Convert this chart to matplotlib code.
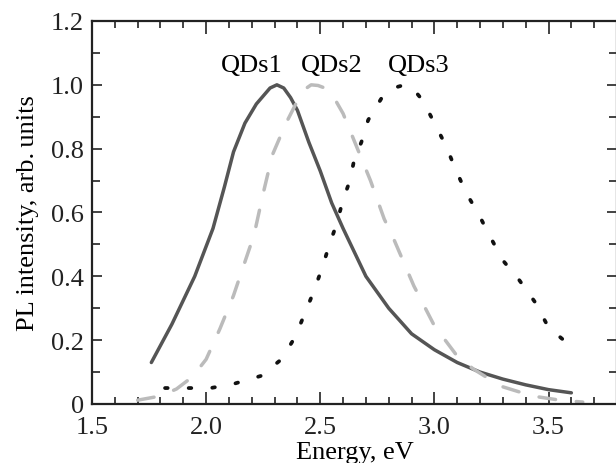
import matplotlib.pyplot as plt
from matplotlib.ticker import MultipleLocator, FuncFormatter

plt.rcParams["font.family"] = ["Liberation Serif", "DejaVu Serif"]

# QDs1 (solid)
qd1_e = [1.76, 1.85, 1.95, 2.03, 2.08, 2.12, 2.17, 2.22, 2.25, 2.28, 2.31, 2.34,
         2.37, 2.40, 2.45, 2.50, 2.55, 2.60, 2.70, 2.80, 2.90, 3.00, 3.10, 3.20,
         3.30, 3.40, 3.50, 3.60]
qd1_i = [0.13, 0.25, 0.40, 0.55, 0.68, 0.79, 0.88, 0.94, 0.965, 0.99, 1.00, 0.99,
         0.96, 0.92, 0.82, 0.73, 0.63, 0.55, 0.40, 0.30, 0.22, 0.17, 0.13, 0.10,
         0.078, 0.06, 0.045, 0.035]

# QDs2 (dashed)
qd2_e = [1.70, 1.80, 1.87, 1.94, 2.00, 2.06, 2.12, 2.21, 2.25, 2.29, 2.35, 2.40,
         2.43, 2.46, 2.49, 2.52, 2.56, 2.60, 2.72, 2.78, 2.82, 2.91, 3.00, 3.10,
         3.17, 3.29, 3.43, 3.55, 3.65]
qd2_i = [0.012, 0.025, 0.047, 0.085, 0.14, 0.235, 0.34, 0.53, 0.66, 0.78, 0.88,
         0.95, 0.985, 1.00, 0.998, 0.99, 0.96, 0.91, 0.70, 0.58, 0.52, 0.37, 0.245,
         0.15, 0.11, 0.056, 0.025, 0.012, 0.006]

# QDs3 (dotted)
qd3_e = [1.82, 1.90, 2.02, 2.12, 2.24, 2.33, 2.39, 2.43, 2.47, 2.51, 2.54, 2.57,
         2.60, 2.63, 2.65, 2.68, 2.71, 2.77, 2.82, 2.87, 2.91, 2.95, 3.00, 3.05,
         3.09, 3.14, 3.19, 3.24, 3.30, 3.37, 3.44, 3.50, 3.60]
qd3_i = [0.05, 0.05, 0.05, 0.063, 0.088, 0.14, 0.21, 0.28, 0.35, 0.43, 0.50, 0.56,
         0.64, 0.70, 0.77, 0.82, 0.89, 0.96, 0.99, 1.00, 0.985, 0.95, 0.88, 0.81,
         0.74, 0.66, 0.60, 0.53, 0.45, 0.39, 0.32, 0.24, 0.18]

labels = ["QDs1", "QDs2", "QDs3"]
label_x = [2.20, 2.55, 2.93]
label_y = 1.063

fig = plt.figure(figsize=(6.16, 4.64), dpi=100)
ax = fig.add_axes([92 / 616, 59 / 464, 525 / 616, 383 / 464])

ax.plot(qd1_e, qd1_i, color="#555555", lw=2.5, solid_capstyle="round",
        solid_joinstyle="round")
ax.plot(qd2_e, qd2_i, color="#bbbbbb", lw=2.5, dashes=(4.8, 6.0),
        dash_capstyle="round")
ax.plot(qd3_e, qd3_i, color="#111111", lw=2.7, linestyle=(0, (0.7, 5.6)),
        dash_capstyle="round")

for txt, lx in zip(labels, label_x):
    ax.text(lx, label_y, txt, fontsize=19, ha="center", va="center")

ax.set_xlim(1.5, 3.8)
ax.set_ylim(0, 1.2)
ax.xaxis.set_major_locator(MultipleLocator(0.5))
ax.xaxis.set_minor_locator(MultipleLocator(0.1))
ax.yaxis.set_major_locator(MultipleLocator(0.2))
ax.yaxis.set_minor_locator(MultipleLocator(0.1))
ax.xaxis.set_major_formatter(FuncFormatter(lambda v, p: f"{v:.1f}"))
ax.yaxis.set_major_formatter(FuncFormatter(lambda v, p: "0" if abs(v) < 1e-9 else f"{v:.1f}"))

ax.tick_params(axis="both", which="both", direction="in", top=True, right=True,
               labelsize=19, width=1.2, colors="#222222")
ax.tick_params(axis="x", which="major", length=9, pad=9)
ax.tick_params(axis="x", which="minor", length=5)
ax.tick_params(axis="y", which="major", length=7, pad=6)
ax.tick_params(axis="y", which="minor", length=6)
for s in ax.spines.values():
    s.set_linewidth(1.6)
    s.set_color("#222222")

ax.set_xlabel("Energy, eV", fontsize=19, labelpad=2)
ax.set_ylabel("PL intensity, arb.\u2009units", fontsize=19, labelpad=8)

fig.savefig("out.png", dpi=100)
